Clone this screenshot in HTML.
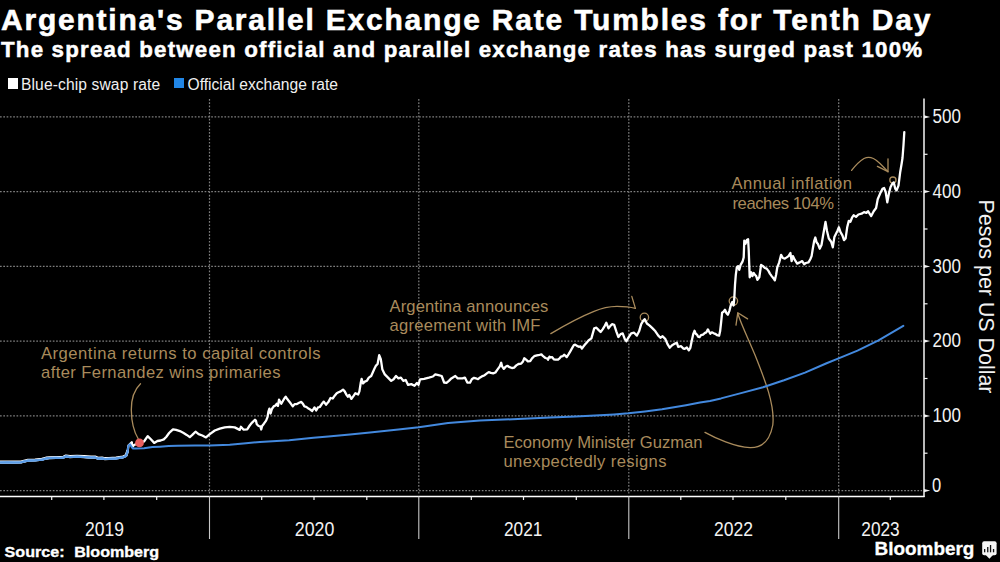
<!DOCTYPE html>
<html><head><meta charset="utf-8"><style>
html,body{margin:0;padding:0;background:#000;}
body{width:1000px;height:562px;position:relative;overflow:hidden;font-family:"Liberation Sans",sans-serif;color:#fff;}
.t{position:absolute;white-space:nowrap;left:0;top:0;}
</style></head><body>
<div class="t" style="left:1px;top:0.4px;font-weight:bold;font-size:30px;line-height:40px;letter-spacing:1.785px;-webkit-text-stroke:0.55px #fff;">Argentina's Parallel Exchange Rate Tumbles for Tenth Day</div>
<div class="t" style="left:1px;top:36px;font-weight:bold;font-size:22.3px;line-height:27px;letter-spacing:1.195px;-webkit-text-stroke:0.5px #fff;">The spread between official and parallel exchange rates has surged past 100%</div>
<div class="t" style="left:7.5px;top:78px;width:10.5px;height:10.5px;background:#fff;"></div>
<div class="t" style="left:21px;top:74.5px;font-size:15.6px;line-height:20px;letter-spacing:0.12px;color:#f0f0f0;">Blue-chip swap rate</div>
<div class="t" style="left:174px;top:78px;width:10.3px;height:10.3px;background:#2186e6;"></div>
<div class="t" style="left:187.5px;top:74.5px;font-size:15.6px;line-height:20px;color:#f0f0f0;">Official exchange rate</div>
<svg width="1000" height="562" viewBox="0 0 1000 562" style="position:absolute;left:0;top:0"><line x1="0" y1="490.6" x2="922" y2="490.6" stroke="#7e7e7e" stroke-width="1.2" stroke-dasharray="1.7 1.6"/><line x1="0" y1="415.9" x2="922" y2="415.9" stroke="#7e7e7e" stroke-width="1.2" stroke-dasharray="1.7 1.6"/><line x1="0" y1="341.1" x2="922" y2="341.1" stroke="#7e7e7e" stroke-width="1.2" stroke-dasharray="1.7 1.6"/><line x1="0" y1="266.4" x2="922" y2="266.4" stroke="#7e7e7e" stroke-width="1.2" stroke-dasharray="1.7 1.6"/><line x1="0" y1="191.6" x2="922" y2="191.6" stroke="#7e7e7e" stroke-width="1.2" stroke-dasharray="1.7 1.6"/><line x1="0" y1="116.9" x2="922" y2="116.9" stroke="#7e7e7e" stroke-width="1.2" stroke-dasharray="1.7 1.6"/><line x1="209.5" y1="99" x2="209.5" y2="495" stroke="#7e7e7e" stroke-width="1.2" stroke-dasharray="1.7 1.6"/><line x1="418.8" y1="99" x2="418.8" y2="495" stroke="#7e7e7e" stroke-width="1.2" stroke-dasharray="1.7 1.6"/><line x1="628.8" y1="99" x2="628.8" y2="495" stroke="#7e7e7e" stroke-width="1.2" stroke-dasharray="1.7 1.6"/><line x1="838.7" y1="99" x2="838.7" y2="495" stroke="#7e7e7e" stroke-width="1.2" stroke-dasharray="1.7 1.6"/><g font-family="Liberation Sans" font-size="16.6" fill="#a98b5c"><text x="41" y="358.8" textLength="279.5" lengthAdjust="spacing">Argentina returns to capital controls</text><text x="41" y="378.2" textLength="239.5" lengthAdjust="spacing">after Fernandez wins primaries</text><text x="389.5" y="311.6" textLength="158.8" lengthAdjust="spacing">Argentina announces</text><text x="389.5" y="330.5" textLength="151" lengthAdjust="spacing">agreement with IMF</text><text x="731.5" y="188.8" textLength="120.5" lengthAdjust="spacing">Annual inflation</text><text x="732.5" y="208.8" textLength="101.5" lengthAdjust="spacing">reaches 104%</text><text x="503.5" y="447.8" textLength="199" lengthAdjust="spacing">Economy Minister Guzman</text><text x="503.5" y="467.2" textLength="163" lengthAdjust="spacing">unexpectedly resigns</text></g><g fill="none" stroke="#a98b5c" stroke-width="1.3" stroke-linecap="round" stroke-linejoin="round"><path d="M140.5,383.7 C134,390 131.2,400 131.3,410 C131.5,422 134,432 138.3,439"/><path d="M550.8,333.6 C562,327 580,317 594,311.4 C602,308 610,306.5 617,306.4 C624,306.4 630,307 635.4,308.4"/><path d="M631.8,296.4 L635.4,308.4"/><circle cx="644.4" cy="317.4" r="4.2"/><path d="M705,432.4 C715,438 735,447 750,447.7 C762,448 770,440 772.8,425 C775,405 765,380 755,355 C748,338 741,324 737.8,313.5"/><path d="M736,325.2 L737.8,312.7 L747.6,318.9"/><circle cx="733.4" cy="301.1" r="4.2"/><path d="M851.6,170.4 C855,166 859,161.5 864,158.5 C869,156 874,158 878.3,161.9 C882,165 885.5,169 888,171.7"/><path d="M888,158.8 L888,171.7 L877.4,166.4"/><circle cx="892.9" cy="180.1" r="3.1"/></g><path d="M0.0,462.0 L7.0,461.9 L14.0,462.0 L21.0,461.8 L25.0,460.8 L28.0,460.1 L35.0,459.8 L42.0,459.2 L46.0,458.0 L49.0,457.6 L56.0,457.3 L60.0,457.4 L63.5,457.1 L66.0,455.8 L70.0,456.5 L77.0,456.2 L84.0,456.5 L91.0,457.0 L95.0,456.9 L98.0,458.1 L102.0,457.9 L105.0,458.5 L109.0,458.3 L116.0,457.9 L123.0,456.8 L126.0,455.5 L127.5,451.3" fill="none" stroke="#ffffff" stroke-width="2.8" stroke-linejoin="round" stroke-linecap="round"/><path d="M0.0,462.5 L7.0,462.4 L14.0,462.5 L21.0,462.3 L25.0,461.3 L28.0,460.6 L35.0,460.3 L42.0,459.7 L46.0,458.5 L49.0,458.1 L56.0,457.8 L60.0,457.9 L63.5,457.6 L66.0,456.3 L70.0,457.0 L77.0,456.7 L84.0,457.0 L91.0,457.5 L95.0,457.4 L98.0,458.6 L102.0,458.4 L105.0,459.0 L109.0,458.8 L116.0,458.4 L123.0,457.3 L126.0,456.0 L127.5,451.8 L128.5,445.5 L130.5,443.5 L131.8,442.2 L132.3,447.0 L134.0,445.0 L139.5,442.9 L144.0,441.5 L147.7,436.2 L149.9,438.3 L154.2,442.9 L157.4,441.0 L160.6,440.5 L163.8,439.4 L166.4,436.7 L169.1,433.0 L170.5,431.7 L173.0,429.3 L176.1,429.9 L179.9,431.1 L183.6,433.0 L186.7,434.9 L189.8,437.1 L192.3,434.9 L195.5,431.7 L198.6,434.2 L202.3,435.5 L206.0,437.4 L209.8,434.2 L214.8,430.5 L219.8,428.6 L224.7,427.4 L229.7,426.8 L234.7,427.4 L239.7,429.9 L240.9,426.8 L243.4,429.6 L247.2,429.3 L249.7,425.5 L252.1,422.6 L255.0,419.7 L255.9,420.6 L256.8,424.2 L258.6,426.0 L260.3,426.4 L261.2,429.5 L262.1,426.0 L263.9,423.7 L266.1,420.6 L267.5,417.1 L268.4,411.7 L269.4,408.6 L270.6,413.5 L271.9,409.0 L273.7,406.4 L275.5,405.5 L276.8,403.7 L278.0,405.9 L279.0,399.7 L280.1,401.5 L281.3,403.7 L282.6,401.5 L284.4,398.4 L285.7,396.6 L287.1,398.8 L288.8,401.0 L290.6,403.3 L292.8,406.4 L294.6,404.1 L296.9,404.1 L299.1,402.8 L301.3,401.9 L303.1,404.1 L304.4,406.4 L306.2,406.8 L308.0,408.2 L310.2,409.5 L312.2,411.0 L314.5,407.4 L316.2,410.5 L318.0,407.4 L319.8,407.0 L321.6,404.3 L323.8,401.6 L326.0,404.7 L328.3,402.1 L330.5,398.0 L332.7,398.5 L334.9,395.4 L336.7,393.2 L338.5,392.3 L340.7,391.4 L343.0,389.6 L344.7,391.4 L346.5,394.9 L347.8,396.7 L349.2,394.9 L351.4,398.9 L353.6,395.8 L355.4,393.2 L358.1,394.5 L359.4,391.4 L360.8,382.5 L361.6,378.9 L363.0,383.4 L364.8,381.6 L367.0,380.7 L368.8,377.6 L371.2,376.0 L374.4,368.8 L376.0,365.6 L377.6,364.0 L379.2,355.2 L380.8,359.2 L382.4,369.6 L384.8,374.4 L388.0,377.6 L391.2,380.9 L393.6,379.3 L396.0,376.0 L398.4,378.4 L400.9,377.6 L403.3,380.9 L405.7,380.0 L408.1,384.9 L411.3,384.1 L414.5,385.7 L416.9,382.9 L418.5,384.9 L420.1,379.3 L424.1,378.8 L428.9,377.6 L432.9,376.5 L435.3,374.4 L438.5,375.2 L441.7,376.0 L444.1,382.5 L446.5,382.9 L448.9,380.9 L451.3,378.4 L455.3,376.0 L457.7,378.4 L462.5,378.4 L464.9,377.6 L467.3,382.5 L470.0,382.7 L471.8,379.2 L474.0,377.8 L475.8,378.3 L478.0,379.2 L480.2,377.4 L482.5,376.1 L484.7,375.2 L486.9,373.4 L488.7,372.1 L490.9,372.9 L493.2,373.4 L495.4,372.5 L497.6,369.4 L499.8,366.3 L501.2,362.7 L502.1,366.3 L503.8,368.9 L505.6,366.7 L507.4,365.8 L509.6,367.2 L511.9,368.0 L514.1,367.6 L516.3,365.4 L518.5,364.0 L521.2,363.6 L523.0,361.4 L524.3,358.3 L526.1,359.6 L527.9,361.4 L530.2,361.1 L532.0,358.4 L534.2,356.2 L536.9,355.3 L539.6,354.8 L541.4,354.4 L543.1,356.2 L545.4,358.0 L547.1,358.4 L548.0,359.7 L549.4,356.6 L550.7,357.5 L552.0,357.1 L553.8,359.3 L555.6,359.7 L557.8,359.7 L559.6,358.4 L560.9,356.6 L562.7,356.2 L564.1,354.8 L565.4,355.7 L566.7,357.1 L568.5,354.4 L570.3,351.3 L572.1,348.2 L573.9,345.0 L575.2,344.6 L577.0,345.9 L578.8,346.8 L580.5,346.4 L581.9,348.6 L583.2,346.8 L585.0,344.6 L586.8,342.4 L588.5,340.5 L591.4,338.4 L594.2,328.4 L596.4,327.7 L598.5,329.9 L600.6,332.0 L602.8,329.1 L604.9,325.6 L606.3,322.7 L608.5,328.4 L610.6,325.6 L612.0,324.2 L614.2,324.9 L616.3,331.3 L618.4,337.0 L620.6,334.1 L622.7,333.4 L624.8,339.1 L626.3,341.2 L628.4,337.7 L631.2,333.4 L634.1,332.7 L636.9,335.6 L639.1,331.3 L641.2,324.2 L643.3,320.6 L644.8,319.2 L646.9,323.5 L649.7,325.6 L652.6,328.4 L655.4,331.3 L658.3,335.6 L660.4,337.7 L662.6,336.3 L665.4,339.1 L667.5,344.1 L669.7,347.7 L671.8,345.5 L673.9,344.1 L676.8,342.7 L678.2,346.9 L681.1,346.2 L683.2,348.4 L684.4,348.9 L686.8,347.5 L688.8,350.4 L690.3,347.9 L691.7,341.1 L693.2,334.2 L694.5,330.8 L695.7,333.8 L697.1,334.7 L698.1,336.7 L699.6,337.2 L701.0,335.2 L703.0,334.7 L705.0,332.8 L706.4,332.3 L707.9,329.4 L708.9,331.3 L710.3,333.8 L711.8,332.3 L713.8,333.3 L715.2,333.8 L717.2,335.2 L719.1,335.7 L720.1,331.3 L721.1,322.5 L722.1,312.7 L723.5,311.7 L725.0,309.8 L726.5,313.2 L727.9,314.7 L729.4,310.8 L730.9,304.9 L732.3,302.0 L733.6,305.5 L734.3,298.0 L735.0,285.0 L735.8,274.8 L736.8,267.3 L738.1,266.1 L739.3,269.8 L740.6,264.9 L742.5,261.7 L743.7,257.4 L744.3,240.6 L745.6,243.7 L746.8,240.0 L748.1,239.3 L748.7,249.9 L749.7,277.3 L751.2,272.3 L752.4,276.1 L753.7,273.0 L754.9,274.8 L756.2,276.1 L757.4,279.8 L759.3,277.3 L761.1,264.9 L763.0,266.1 L764.9,268.0 L766.7,268.6 L768.6,271.1 L769.9,273.6 L771.7,276.1 L773.6,278.5 L774.8,280.4 L776.1,274.8 L777.3,267.3 L779.2,262.4 L781.1,254.9 L782.9,258.0 L784.8,258.6 L786.7,257.4 L788.5,256.1 L790.4,253.0 L791.6,261.1 L792.9,256.1 L794.8,259.9 L797.2,263.6 L799.7,262.4 L802.2,261.1 L804.1,264.2 L805.9,263.0 L808.5,262.4 L810.3,259.2 L811.6,256.1 L812.8,248.7 L814.1,241.2 L815.3,237.5 L816.6,242.4 L817.8,243.7 L819.7,248.7 L821.5,245.0 L823.0,236.0 L825.5,222.0 L827.0,231.0 L828.8,238.5 L831.2,241.7 L832.8,247.3 L834.4,236.9 L836.0,233.7 L837.6,230.5 L838.9,227.3 L840.5,232.1 L842.4,235.3 L844.0,240.1 L845.6,238.5 L847.2,227.3 L848.8,220.9 L850.4,221.7 L852.0,217.7 L853.6,215.3 L856.0,216.9 L858.4,214.5 L861.6,213.7 L864.0,212.1 L866.4,212.9 L868.0,211.2 L871.2,216.1 L873.7,211.2 L876.1,208.0 L877.7,199.2 L880.1,193.6 L882.5,188.8 L884.1,188.0 L885.7,192.0 L887.3,202.4 L888.9,193.6 L890.5,187.2 L892.1,184.0 L893.7,182.4 L895.3,188.8 L896.6,190.4 L898.5,185.6 L900.1,172.8 L901.7,163.2 L902.5,158.0 L903.5,145.0 L904.3,132.1" fill="none" stroke="#ffffff" stroke-width="2.3" stroke-linejoin="round" stroke-linecap="round"/><path d="M0.0,462.5 L7.0,462.4 L14.0,462.5 L21.0,462.3 L25.0,461.3 L28.0,460.6 L35.0,460.3 L42.0,459.7 L46.0,458.5 L49.0,458.1 L56.0,457.8 L60.0,457.9 L63.5,457.6 L66.0,456.3 L70.0,457.0 L77.0,456.7 L84.0,457.0 L91.0,457.5 L95.0,457.4 L98.0,458.6 L102.0,458.4 L105.0,459.0 L109.0,458.8 L116.0,458.4 L123.0,457.3 L126.0,456.0 L127.5,451.8 L128.5,445.5 L130.0,444.3 L132.0,447.5 L133.0,448.5 L136.0,448.6 L144.0,448.3 L152.5,447.1 L160.0,446.7 L168.7,446.1 L177.4,445.7 L195.0,445.6 L209.8,445.4 L229.7,444.7 L246.0,443.3 L260.0,441.9 L289.2,440.2 L313.5,437.8 L328.3,436.5 L350.0,434.4 L370.0,432.4 L398.4,429.6 L418.8,427.2 L448.1,422.9 L480.0,420.6 L518.0,419.0 L550.0,417.6 L575.6,416.5 L600.0,415.3 L614.0,414.4 L628.4,413.3 L645.0,411.4 L662.0,409.3 L686.0,405.2 L700.0,402.6 L710.0,400.9 L721.0,398.4 L742.0,392.9 L763.0,387.3 L784.0,380.3 L805.0,372.6 L826.0,363.5 L838.6,358.3 L857.5,350.6 L878.5,340.4 L903.3,325.8" fill="none" stroke="#4389de" stroke-width="2.0" stroke-linejoin="round" stroke-linecap="round"/><path d="M0.0,462.5 L7.0,462.4 L14.0,462.5 L21.0,462.3 L25.0,461.3 L28.0,460.6 L35.0,460.3 L42.0,459.7 L46.0,458.5 L49.0,458.1 L56.0,457.8 L60.0,457.9 L63.5,457.6 L66.0,456.3 L70.0,457.0 L77.0,456.7 L84.0,457.0 L91.0,457.5 L95.0,457.4 L98.0,458.6 L102.0,458.4 L105.0,459.0 L109.0,458.8 L116.0,458.4 L123.0,457.3 L126.0,456.0 L127.5,451.8" fill="none" stroke="#5c9de6" stroke-width="2.2" stroke-linejoin="round" stroke-linecap="round"/><circle cx="139.5" cy="442.9" r="4.4" fill="#ea5f5f"/><line x1="924" y1="98.5" x2="924" y2="497" stroke="#ffffff" stroke-width="1.45"/><line x1="0" y1="496.4" x2="924.6" y2="496.4" stroke="#ffffff" stroke-width="1.45"/><path d="M924,488.9 L930.2,490.6 L924,492.3 Z" fill="#f2f2f2"/><line x1="924" y1="453.2" x2="927.5" y2="453.2" stroke="#f2f2f2" stroke-width="1.2"/><path d="M924,414.2 L930.2,415.9 L924,417.6 Z" fill="#f2f2f2"/><line x1="924" y1="378.5" x2="927.5" y2="378.5" stroke="#f2f2f2" stroke-width="1.2"/><path d="M924,339.4 L930.2,341.1 L924,342.8 Z" fill="#f2f2f2"/><line x1="924" y1="303.8" x2="927.5" y2="303.8" stroke="#f2f2f2" stroke-width="1.2"/><path d="M924,264.7 L930.2,266.4 L924,268.1 Z" fill="#f2f2f2"/><line x1="924" y1="229.0" x2="927.5" y2="229.0" stroke="#f2f2f2" stroke-width="1.2"/><path d="M924,189.9 L930.2,191.6 L924,193.3 Z" fill="#f2f2f2"/><line x1="924" y1="154.3" x2="927.5" y2="154.3" stroke="#f2f2f2" stroke-width="1.2"/><path d="M924,115.2 L930.2,116.9 L924,118.6 Z" fill="#f2f2f2"/><line x1="51.7" y1="496.4" x2="51.7" y2="500" stroke="#f2f2f2" stroke-width="1.2"/><line x1="103.9" y1="496.4" x2="103.9" y2="500" stroke="#f2f2f2" stroke-width="1.2"/><line x1="156.7" y1="496.4" x2="156.7" y2="500" stroke="#f2f2f2" stroke-width="1.2"/><line x1="261.7" y1="496.4" x2="261.7" y2="500" stroke="#f2f2f2" stroke-width="1.2"/><line x1="314.0" y1="496.4" x2="314.0" y2="500" stroke="#f2f2f2" stroke-width="1.2"/><line x1="366.8" y1="496.4" x2="366.8" y2="500" stroke="#f2f2f2" stroke-width="1.2"/><line x1="471.3" y1="496.4" x2="471.3" y2="500" stroke="#f2f2f2" stroke-width="1.2"/><line x1="523.5" y1="496.4" x2="523.5" y2="500" stroke="#f2f2f2" stroke-width="1.2"/><line x1="576.3" y1="496.4" x2="576.3" y2="500" stroke="#f2f2f2" stroke-width="1.2"/><line x1="680.8" y1="496.4" x2="680.8" y2="500" stroke="#f2f2f2" stroke-width="1.2"/><line x1="733.0" y1="496.4" x2="733.0" y2="500" stroke="#f2f2f2" stroke-width="1.2"/><line x1="785.8" y1="496.4" x2="785.8" y2="500" stroke="#f2f2f2" stroke-width="1.2"/><line x1="890.3" y1="496.4" x2="890.3" y2="500" stroke="#f2f2f2" stroke-width="1.2"/><line x1="209.5" y1="496.4" x2="209.5" y2="539" stroke="#c8c8c8" stroke-width="1.1"/><line x1="418.8" y1="496.4" x2="418.8" y2="539" stroke="#c8c8c8" stroke-width="1.1"/><line x1="628.8" y1="496.4" x2="628.8" y2="539" stroke="#c8c8c8" stroke-width="1.1"/><line x1="838.7" y1="496.4" x2="838.7" y2="539" stroke="#c8c8c8" stroke-width="1.1"/><g font-family="Liberation Sans" font-size="19.6" fill="#f2f2f2"><text x="932.6" y="422.0" textLength="28.4" lengthAdjust="spacingAndGlyphs">100</text><text x="932.6" y="347.2" textLength="28.4" lengthAdjust="spacingAndGlyphs">200</text><text x="932.6" y="272.5" textLength="28.4" lengthAdjust="spacingAndGlyphs">300</text><text x="932.6" y="197.7" textLength="28.4" lengthAdjust="spacingAndGlyphs">400</text><text x="932.6" y="123.0" textLength="28.4" lengthAdjust="spacingAndGlyphs">500</text><text x="932" y="491.6" textLength="9.2" lengthAdjust="spacingAndGlyphs">0</text></g><g font-family="Liberation Sans" font-size="19.6" fill="#f2f2f2"><text x="85" y="535.8" textLength="39" lengthAdjust="spacingAndGlyphs">2019</text><text x="294.8" y="535.8" textLength="39.6" lengthAdjust="spacingAndGlyphs">2020</text><text x="504" y="535.8" textLength="38.4" lengthAdjust="spacingAndGlyphs">2021</text><text x="714" y="535.8" textLength="39" lengthAdjust="spacingAndGlyphs">2022</text><text x="861.3" y="535.8" textLength="38.4" lengthAdjust="spacingAndGlyphs">2023</text></g><g font-family="Liberation Sans" font-weight="bold" font-size="15" fill="#fff" stroke="#fff" stroke-width="0.35"><text x="4.6" y="556.6" textLength="60" lengthAdjust="spacingAndGlyphs">Source:</text><text x="74.2" y="556.6" textLength="85" lengthAdjust="spacingAndGlyphs">Bloomberg</text></g><text transform="translate(978.8,199.5) rotate(90)" font-family="Liberation Sans" font-size="21.5" fill="#f2f2f2" textLength="194" lengthAdjust="spacing">Pesos per US Dollar</text><text x="874.6" y="555.2" font-family="Liberation Sans" font-weight="bold" font-size="18.4" fill="#fff" stroke="#fff" stroke-width="0.3" textLength="99.8" lengthAdjust="spacingAndGlyphs">Bloomberg</text><g><rect x="982.2" y="541.2" width="14.4" height="14" rx="2" fill="#f6f6f6"/><path d="M985.8,555 L989.4,558.7 L993,555 Z" fill="#f6f6f6"/><g fill="#111"><rect x="984" y="549" width="1.3" height="3.3"/><rect x="987.1" y="547" width="1.3" height="5.3"/><rect x="989.9" y="545" width="1.3" height="7.3"/><rect x="992.9" y="549" width="1.3" height="3.3"/></g></g></svg>
</body></html>
